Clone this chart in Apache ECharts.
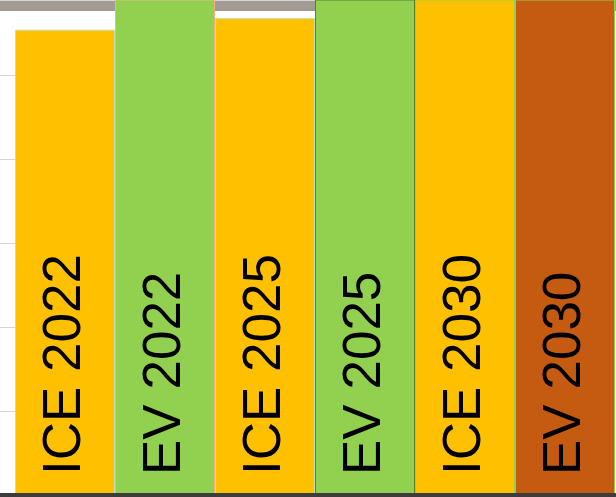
<!DOCTYPE html>
<html>
<head>
<meta charset="utf-8">
<script src="https://cdn.jsdelivr.net/npm/echarts@6/dist/echarts.min.js"></script>
<style>html,body{margin:0;padding:0;background:#fff;}#c{width:616px;height:497px;}</style>
</head>
<body>
<div id="c"></div>
<script>
const categories = ['ICE 2022', 'EV 2022', 'ICE 2025', 'EV 2025', 'ICE 2030', 'EV 2030'];
const values = [5.54, 6.6, 5.68, 6.5, 6.3, 7.1];
const barColors = ['#FFC000', '#92D050', '#FFC000', '#92D050', '#FFC000', '#C55A11'];
const borderColors = ['#C5E0B4', '#F4B183', '#C5E0B4', '#548235', '#92D050', '#92D050'];
const yTicks = [0, 1, 2, 3, 4, 5];

const yMax = 495 / 84;
const chart = echarts.init(document.getElementById('c'), null, {renderer: 'canvas'});
const yBase = {
  type: 'value', min: yTicks[0], max: yMax, interval: yTicks[1] - yTicks[0],
  axisLabel: {show: false}, axisLine: {show: false}, axisTick: {show: false},
  splitLine: {show: true, lineStyle: {color: '#D6D6D6', width: 1}}
};
chart.setOption({
  animation: false,
  backgroundColor: '#ffffff',
  graphic: [{
    type: 'rect', z: 0, silent: true,
    shape: {x: 0, y: 0, width: 616, height: 11},
    style: {fill: '#A29C94'}
  }],
  grid: [
    {left: 15, right: 1, top: 0, bottom: 2, containLabel: false},
    {left: 0, width: 15, top: 0, bottom: 2, containLabel: false}
  ],
  xAxis: [
    {type: 'category', gridIndex: 0, data: categories, boundaryGap: true, z: 10,
     axisLabel: {show: false}, axisTick: {show: false},
     axisLine: {show: true, lineStyle: {color: '#3C3C3C', width: 4}}},
    {type: 'category', gridIndex: 1, data: [''], z: 10,
     axisLabel: {show: false}, axisTick: {show: false},
     axisLine: {show: true, lineStyle: {color: '#3C3C3C', width: 4}}}
  ],
  yAxis: [
    Object.assign({gridIndex: 0}, yBase),
    Object.assign({gridIndex: 1}, yBase)
  ],
  series: [{
    type: 'bar', xAxisIndex: 0, yAxisIndex: 0,
    barCategoryGap: '0%', clip: true, z: 2,
    data: values.map((v, i) => ({
      value: v,
      itemStyle: {color: barColors[i], borderColor: borderColors[i], borderWidth: 1}
    })),
    label: {
      show: true, position: 'insideBottom', rotate: 90, distance: 20,
      align: 'left', verticalAlign: 'middle',
      formatter: p => categories[p.dataIndex],
      fontFamily: 'Liberation Sans, Arial, sans-serif', fontSize: 53, color: '#000'
    }
  }]
});
</script>
</body>
</html>
